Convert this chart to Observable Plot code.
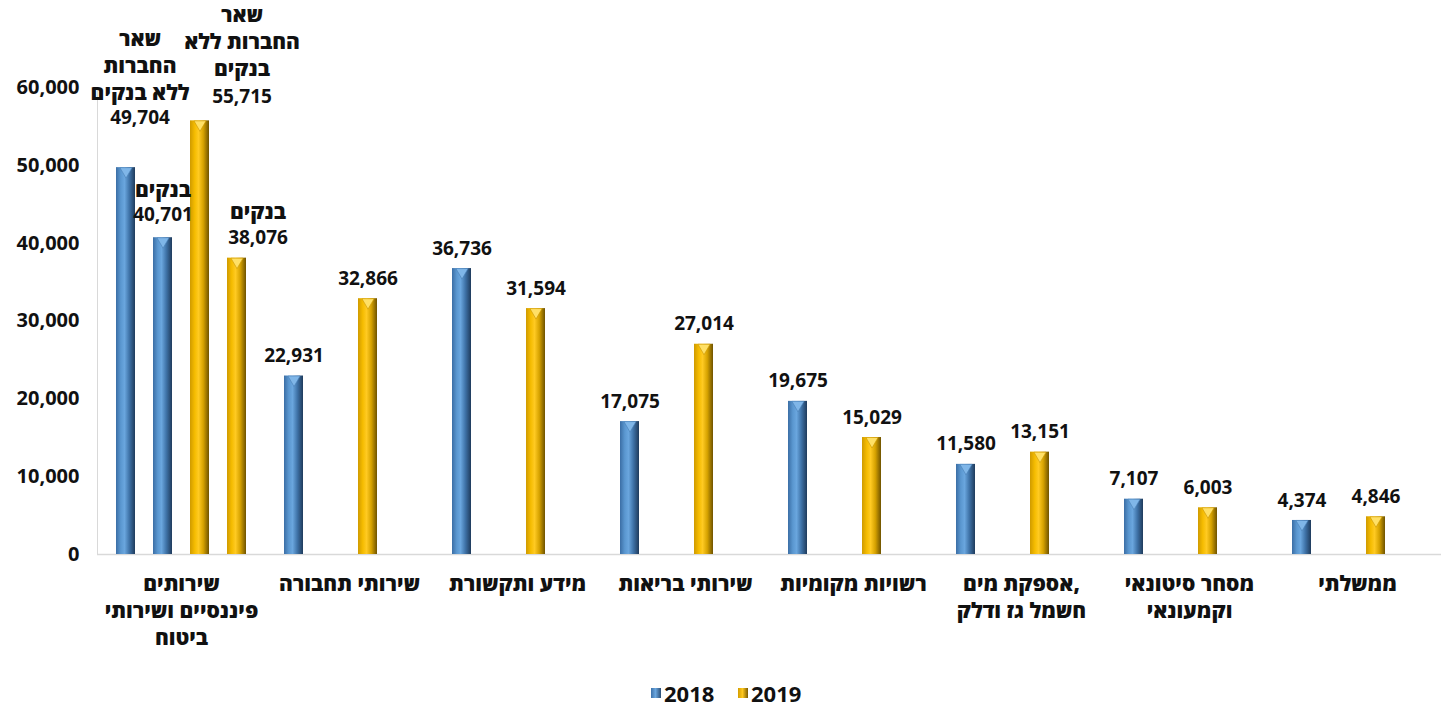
<!DOCTYPE html>
<html>
<head>
<meta charset="utf-8">
<script src="https://cdn.jsdelivr.net/npm/d3@7"></script>
<script src="https://cdn.jsdelivr.net/npm/@observablehq/plot@0.6"></script>
<style>
  body { margin: 0; background: #fff; }
  #chart svg { overflow: visible; }
  #legend { position: relative; height: 36px; font-family: "Open Sans", "DejaVu Sans", sans-serif; font-weight: 700; font-size: 22px; color: #111; }
  #legend .item { position: absolute; top: 8px; display: flex; align-items: center; }
  #legend .sw { width: 10px; height: 10px; margin-right: 3px; }
</style>
</head>
<body>
<div id="chart"></div>
<div id="legend">
  <div class="item" style="left:651px"><div class="sw" style="background:linear-gradient(90deg,#3e72aa,#6aa6de 45%,#2a4d75)"></div><span>2018</span></div>
  <div class="item" style="left:738px"><div class="sw" style="background:linear-gradient(90deg,#d49e00,#ffc81e 45%,#7a5a00)"></div><span>2019</span></div>
</div>
<script>
// ---- data ----
const categories = [
  "שירותים פיננסיים ושירותי ביטוח",
  "שירותי תחבורה",
  "מידע ותקשורת",
  "שירותי בריאות",
  "רשויות מקומיות",
  "אספקת מים, חשמל גז ודלק",
  "מסחר סיטונאי וקמעונאי",
  "ממשלתי"
];
const categoryLabels = [
  "שירותים\nפיננסיים ושירותי\nביטוח",
  "שירותי תחבורה",
  "מידע ותקשורת",
  "שירותי בריאות",
  "רשויות מקומיות",
  "אספקת מים,\nחשמל גז ודלק",
  "מסחר סיטונאי\nוקמעונאי",
  "ממשלתי"
];
const values2018 = [49704, 22931, 36736, 17075, 19675, 11580, 7107, 4374];
const values2019 = [55715, 32866, 31594, 27014, 15029, 13151, 6003, 4846];
const banks2018 = 40701;
const banks2019 = 38076;
const slots = ["2018", "בנקים 2018", "2019", "בנקים 2019"];
const yTicks = [0, 10000, 20000, 30000, 40000, 50000, 60000];
const finNotes = { "2018": "שאר\nהחברות\nללא בנקים", "בנקים 2018": "בנקים", "2019": "שאר\nהחברות ללא\nבנקים", "בנקים 2019": "בנקים" };

// ---- table ----
const bars = [];
categories.forEach((c, i) => {
  bars.push({cat: c, slot: "2018", year: 2018, value: values2018[i]});
  bars.push({cat: c, slot: "2019", year: 2019, value: values2019[i]});
});
bars.push({cat: categories[0], slot: "בנקים 2018", year: 2018, value: banks2018});
bars.push({cat: categories[0], slot: "בנקים 2019", year: 2019, value: banks2019});

const fin = bars.filter(d => d.cat === categories[0]);
const rest = bars.filter(d => d.cat !== categories[0]);
const finBy = Object.fromEntries(fin.map(d => [d.slot, d]));

const numFont = "Open Sans, DejaVu Sans, sans-serif";
const hebFont = "Open Sans, DejaVu Sans, sans-serif";
const fmt = d3.format(",");

// per-label offsets for the manually placed financial labels
const finLabel = [
  {slot: "2018", dx: 14, dyNum: -50, dyNote: -68},
  {slot: "בנקים 2018", dx: 0, dyNum: -23, dyNote: -41},
  {slot: "2019", dx: 42, dyNum: -24, dyNote: -45},
  {slot: "בנקים 2019", dx: 21, dyNum: -20, dyNote: -39}
];

const marks = [
  Plot.frame({anchor: "left", stroke: "#d9d9d9", facetAnchor: "left"}),
  Plot.ruleY([0], {stroke: "#d9d9d9", strokeWidth: 1.5}),
  Plot.barY(bars.filter(d => d.year === 2018), {fx: "cat", x: "slot", y: "value", fill: "url(#gBlue)"}),
  Plot.barY(bars.filter(d => d.year === 2019), {fx: "cat", x: "slot", y: "value", fill: "url(#gGold)"}),
  Plot.dot(bars.filter(d => d.year === 2018), {fx: "cat", x: "slot", y: "value", symbol: "triangle", rotate: 180, r: 4.5, dy: 3.5, fill: "#7fb6e8", stroke: "#4a7fb5", strokeWidth: 0.6}),
  Plot.dot(bars.filter(d => d.year === 2019), {fx: "cat", x: "slot", y: "value", symbol: "triangle", rotate: 180, r: 4.5, dy: 3.5, fill: "#ffe066", stroke: "#c99600", strokeWidth: 0.6}),
  Plot.text(rest, {fx: "cat", x: "slot", y: "value", text: d => fmt(d.value), dy: -20, fontSize: 19, fontWeight: 700, fontFamily: numFont, fill: "#111"}),
  ...finLabel.map(o => Plot.text([finBy[o.slot]], {fx: "cat", x: "slot", y: "value", text: d => fmt(d.value), dx: o.dx, dy: o.dyNum, fontSize: 19, fontWeight: 700, fontFamily: numFont, fill: "#111"})),
  ...finLabel.map(o => Plot.text([finBy[o.slot]], {fx: "cat", x: "slot", y: "value", text: d => finNotes[d.slot], dx: o.dx, dy: o.dyNote, lineAnchor: "bottom", lineHeight: 1.28, fontSize: 21, fontWeight: 800, fontFamily: hebFont, fill: "#111"})),
  Plot.text(categories, {fx: d => d, text: (d, i) => categoryLabels[i], frameAnchor: "bottom", lineAnchor: "top", dy: 17, lineHeight: 1.3, fontSize: 21, fontWeight: 800, fontFamily: hebFont, fill: "#111"}),
  Plot.axisY({ticks: yTicks, tickFormat: fmt, label: null, tickSize: 0, tickPadding: 18, fontSize: 20, fontWeight: 700, fontFamily: numFont, fill: "#111"})
];

const chart = Plot.plot({
  width: 1446,
  height: 670,
  marginLeft: 93,
  marginRight: 2,
  marginTop: 87,
  marginBottom: 116,
  style: {background: "#fff", color: "#111"},
  fx: {domain: categories, padding: 0, axis: null},
  x: {domain: slots, paddingInner: 0.484, paddingOuter: 0.477, axis: null},
  y: {domain: [0, 60000], axis: null},
  marks
});

const defs = `<defs>
<linearGradient id="gBlue" x1="0" x2="1" y1="0" y2="0">
 <stop offset="0" stop-color="#3b6ea5"/><stop offset="0.25" stop-color="#5a97d0"/><stop offset="0.45" stop-color="#6aa6de"/>
 <stop offset="0.7" stop-color="#3f73a8"/><stop offset="1" stop-color="#1f3b5c"/></linearGradient>
<linearGradient id="gGold" x1="0" x2="1" y1="0" y2="0">
 <stop offset="0" stop-color="#cf9a00"/><stop offset="0.25" stop-color="#f5bc00"/><stop offset="0.45" stop-color="#ffca22"/>
 <stop offset="0.7" stop-color="#d6a200"/><stop offset="1" stop-color="#6f5300"/></linearGradient>
</defs>`;
chart.insertAdjacentHTML("afterbegin", defs);
document.getElementById("chart").appendChild(chart);
</script>
</body>
</html>
